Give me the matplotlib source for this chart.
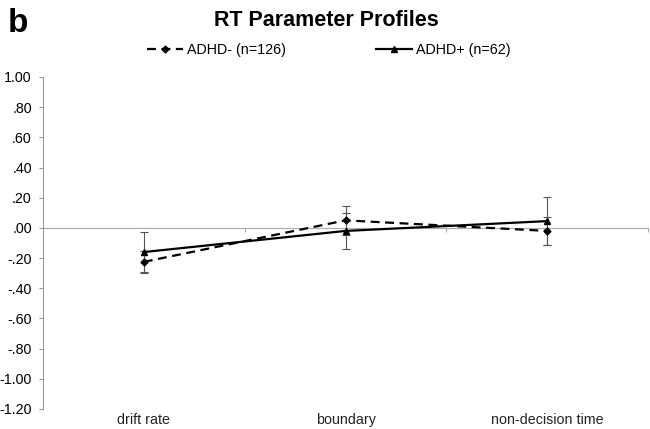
import matplotlib.pyplot as plt
import numpy as np

plt.rcParams['font.family'] = ['Liberation Sans', 'DejaVu Sans']

# dados
categorias = ["drift rate", "boundary", "non-decision time"]
adhd_neg = [-0.225, 0.05, -0.02]
adhd_neg_err = [0.075, 0.095, 0.09]
adhd_pos = [-0.16, -0.02, 0.045]
adhd_pos_err = [0.13, 0.12, 0.16]
yticks = [1.0, 0.8, 0.6, 0.4, 0.2, 0.0, -0.2, -0.4, -0.6, -0.8, -1.0, -1.2]
ytick_labels = ["1.00", ".80", ".60", ".40", ".20", ".00", "-.20", "-.40", "-.60", "-.80", "-1.00", "-1.20"]

fig = plt.figure(figsize=(6.5, 4.29), dpi=100)
ax = fig.add_axes([43/650, 1 - 409/429, 605/650, (409 - 77)/429])

x = np.arange(len(categorias))

# barras de erro
ax.errorbar(x, adhd_neg, yerr=adhd_neg_err, fmt='none', ecolor='#555555',
            elinewidth=0.8, capsize=3, capthick=0.8)
ax.errorbar(x, adhd_pos, yerr=adhd_pos_err, fmt='none', ecolor='#555555',
            elinewidth=0.8, capsize=3, capthick=0.8)

# linhas
l1, = ax.plot(x, adhd_neg, color='black', linestyle=(0, (4, 2.5)), linewidth=1.6,
              marker='D', markersize=3.5, label='ADHD- (n=126)')
l2, = ax.plot(x, adhd_pos, color='black', linestyle='-', linewidth=1.6,
              marker='^', markersize=5, label='ADHD+ (n=62)')

ax.set_xlim(-0.5, 2.5)
ax.set_ylim(-1.2, 1.0)

# eixo y
ax.set_yticks(yticks)
ax.set_yticklabels(ytick_labels, fontsize=10.3)
ax.tick_params(axis='y', length=3, color='#999999', width=0.8, pad=5)
ax.spines['left'].set_color('#999999')
ax.spines['left'].set_linewidth(0.8)
for s in ['top', 'right', 'bottom']:
    ax.spines[s].set_visible(False)

# rótulos das categorias
ax.set_xticks(x)
ax.set_xticklabels(categorias, fontsize=10.3, color='#222222')
ax.tick_params(axis='x', length=0, pad=3)

# linha do zero com marcas entre categorias
sec = ax.secondary_xaxis(0, transform=ax.transData)
sec.spines['bottom'].set_color('#aaaaaa')
sec.spines['bottom'].set_linewidth(0.8)
sec.set_xticks([0.5, 1.5, 2.5])
sec.set_xticklabels([])
sec.tick_params(axis='x', length=3, color='#aaaaaa', width=0.8)

fig.text(326/650, 1 - 20/429, "RT Parameter Profiles", ha='center', va='center',
         fontsize=15.5, fontweight='bold')
fig.text(8/650, 1 - 24/429, "b", ha='left', va='center', fontsize=24, fontweight='bold')

fig.legend(handles=[l1, l2], loc='center', bbox_to_anchor=(329/650, 1 - 50/429), ncol=2,
           frameon=False, fontsize=10.3, columnspacing=6.3, handlelength=2.5, handletextpad=0.3)

plt.savefig("out.png", dpi=100)
